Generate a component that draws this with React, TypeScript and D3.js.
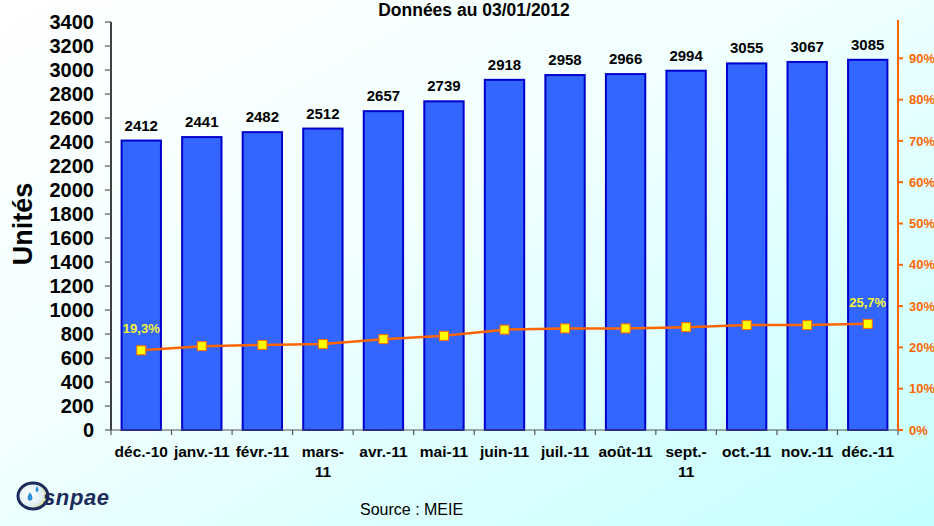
import React from 'react';
import * as d3 from 'd3';

// libellés des mois (découpés comme sur le graphique d'origine)
const monthLabels = [
  ['déc.-10'], ['janv.-11'], ['févr.-11'], ['mars-', '11'], ['avr.-11'], ['mai-11'],
  ['juin-11'], ['juil.-11'], ['août-11'], ['sept.-', '11'], ['oct.-11'], ['nov.-11'], ['déc.-11']
];
const months = monthLabels.map(l => l.join(''));
const units = [2412, 2441, 2482, 2512, 2657, 2739, 2918, 2958, 2966, 2994, 3055, 3067, 3085];
const rates = [19.3, 20.3, 20.6, 20.8, 22.0, 22.8, 24.3, 24.6, 24.6, 24.9, 25.4, 25.4, 25.7];
const rateLabelIdx = [0, 12];
const unitTicks = d3.range(0, 3401, 200);
const rateTicks = d3.range(0, 91, 10);

const W = 934, H = 526;
const left = 111, right = 898, top = 22, bottom = 430;
const FONT = 'Arial, "Liberation Sans", sans-serif';

export default function App() {
  const x = d3.scaleBand<string>().domain(months).range([left, right]).paddingInner(0.35).paddingOuter(0.175);
  const y = d3.scaleLinear().domain([0, 3400]).range([bottom, top]);
  const y2 = d3.scaleLinear().domain([0, 100]).range([bottom, 17]);
  const cx = (m: string) => (x(m) as number) + x.bandwidth() / 2;

  const line = d3.line<number>()
    .x((d, i) => cx(months[i]))
    .y(d => y2(d));

  const step = x.step();
  const bounds = d3.range(0, months.length + 1).map(i => left + i * step);

  return (
    <svg width={W} height={H} style={{ position: 'absolute', left: 0, top: 0, display: 'block' }} fontFamily={FONT}>
      <defs>
        <linearGradient id="bg" x1="0" y1="0" x2="1" y2="1">
          <stop offset="0" stopColor="#ffffff" />
          <stop offset="0.45" stopColor="#f0ffff" />
          <stop offset="1" stopColor="#c4ffff" />
        </linearGradient>
        <radialGradient id="logo" cx="0.4" cy="0.45" r="0.6">
          <stop offset="0" stopColor="#ffffff" />
          <stop offset="0.7" stopColor="#dfeff5" />
          <stop offset="1" stopColor="#c9d66a" />
        </radialGradient>
      </defs>
      <rect x={0} y={0} width={W} height={H} fill="url(#bg)" />

      <text x={474} y={16} textAnchor="middle" fontWeight="bold" fontSize={17.5}>Données au 03/01/2012</text>

      {/* barres */}
      {units.map((v, i) => (
        <g key={months[i]}>
          <rect x={(x(months[i]) as number)} y={y(v)} width={x.bandwidth()} height={bottom - y(v)}
            fill="#3366ff" stroke="#0000cc" strokeWidth={2} />
          <text x={cx(months[i])} y={y(v) - 10} textAnchor="middle" fontWeight="bold" fontSize={15}>{v}</text>
        </g>
      ))}

      {/* axe gauche */}
      <line x1={left} x2={left} y1={top} y2={bottom} stroke="#000" strokeWidth={1.5} />
      {unitTicks.map(t => (
        <g key={t}>
          <line x1={left - 6} x2={left} y1={y(t)} y2={y(t)} stroke="#555" strokeWidth={1.2} />
          <text x={94} y={y(t)} dy="0.36em" textAnchor="end" fontWeight="bold" fontSize={20}>{t}</text>
        </g>
      ))}
      <text transform={`translate(32,224) rotate(-90)`} textAnchor="middle" fontWeight="bold" fontSize={27}>Unités</text>

      {/* axe des x */}
      <line x1={left} x2={right} y1={bottom} y2={bottom} stroke="#555" strokeWidth={1.2} />
      {bounds.map((b, i) => (
        <line key={i} x1={b} x2={b} y1={bottom} y2={bottom + 5} stroke="#555" strokeWidth={1.2} />
      ))}
      {monthLabels.map((lines, i) => (
        <text key={months[i]} x={cx(months[i])} y={457} textAnchor="middle" fontWeight="bold" fontSize={15.5}>
          {lines.map((l, j) => (
            <tspan key={j} x={cx(months[i])} dy={j === 0 ? 0 : 20}>{l}</tspan>
          ))}
        </text>
      ))}

      {/* axe droit */}
      <line x1={right} x2={right} y1={20} y2={bottom} stroke="#ff6600" strokeWidth={2} />
      {rateTicks.map(t => (
        <g key={t}>
          <line x1={right} x2={right + 5} y1={y2(t)} y2={y2(t)} stroke="#ff6600" strokeWidth={2} />
          <text x={909} y={y2(t)} dy="0.36em" fontWeight="bold" fontSize={13} fill="#ff6600">{t}%</text>
        </g>
      ))}

      {/* courbe */}
      <path d={line(rates) || ''} fill="none" stroke="#ff6600" strokeWidth={2.5} />
      {rates.map((r, i) => (
        <rect key={i} x={cx(months[i]) - 4.5} y={y2(r) - 4.5} width={9} height={9}
          fill="#ffff00" stroke="#ff6600" strokeWidth={1} />
      ))}
      {rateLabelIdx.map(i => (
        <text key={i} x={cx(months[i])} y={y2(rates[i]) - 17} textAnchor="middle" fontWeight="bold" fontSize={13} fill="#f4f432">
          {rates[i].toFixed(1).replace('.', ',')}%
        </text>
      ))}

      {/* logo */}
      <g>
        <ellipse cx={33} cy={496} rx={15} ry={13} fill="url(#logo)" stroke="#1b2c5c" strokeWidth={3} />
        <path d="M30,492 q-5,7 0,9 q5,-2 0,-9z" fill="#2a8fd6" />
        <path d="M37,486 q-3,5 0,6 q3,-1 0,-6z" fill="#2a8fd6" />
        <text x={43} y={505} fontSize={22} fontWeight="bold" fontStyle="italic" fill="#1b2c5c" textLength={66}>snpae</text>
      </g>

      <text x={360} y={515} fontSize={16}>Source : MEIE</text>
    </svg>
  );
}
